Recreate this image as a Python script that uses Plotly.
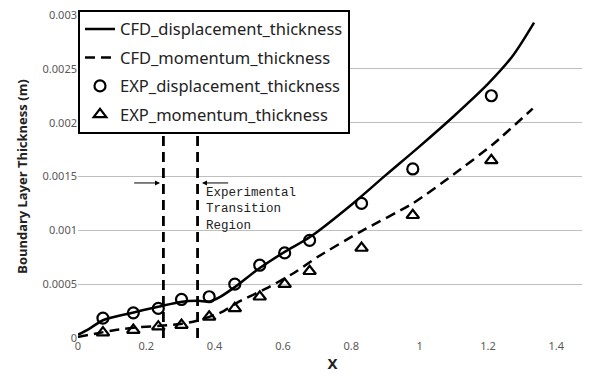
import plotly.graph_objects as go

# CFD curves
cfd_disp_x = [0, 0.035, 0.073, 0.16, 0.235, 0.30, 0.35, 0.385, 0.415, 0.46, 0.53, 0.605, 0.68, 0.805, 0.9, 1.0, 1.1, 1.2, 1.27, 1.335]
cfd_disp_y = [0.00003, 0.00009, 0.000165, 0.000235, 0.00029, 0.000335, 0.000345, 0.00034, 0.00038, 0.000475,
              0.000645, 0.0008, 0.00094, 0.00125, 0.00151, 0.00178, 0.00206, 0.00236, 0.00261, 0.00293]
cfd_mom_x = [0, 0.05, 0.12, 0.18, 0.25, 0.30, 0.35, 0.42, 0.47, 0.56, 0.64, 0.70, 0.834, 0.98, 1.1, 1.215, 1.331]
cfd_mom_y = [0.00001, 0.00004, 0.00008, 0.0001, 0.000115, 0.00013, 0.00016, 0.00024, 0.000335, 0.000475,
             0.00062, 0.00075, 0.001, 0.00125, 0.00152, 0.0018, 0.00213]

# Experimental points
exp_x = [0.073, 0.162, 0.235, 0.303, 0.384, 0.459, 0.532, 0.605, 0.678, 0.83, 0.98, 1.21]
exp_disp_y = [0.000185, 0.000234, 0.000275, 0.000358, 0.000383, 0.0005, 0.000676, 0.00079, 0.000907, 0.00125, 0.00157, 0.00225]
exp_mom_y = [0.00005, 0.000074, 0.000105, 0.00012, 0.000197, 0.000275, 0.000383, 0.0005, 0.00062, 0.000836, 0.00114, 0.00165]

# Transition region
transition_x = [0.25, 0.35]
transition_top = 0.0019

x_ticks = [0, 0.2, 0.4, 0.6, 0.8, 1, 1.2, 1.4]
y_ticks = [0, 0.0005, 0.001, 0.0015, 0.002, 0.0025, 0.003]
y_tick_labels = ["0", "0.0005", "0.001", "0.0015", "0.002", "0.0025", "0.003"]

fig = go.Figure()
fig.add_trace(go.Scatter(x=cfd_disp_x, y=cfd_disp_y, mode="lines", name="CFD_displacement_thickness",
                         line=dict(color="black", width=2.5, shape="spline", smoothing=0.9),
                         legendgroup="a"))
fig.add_trace(go.Scatter(x=cfd_mom_x, y=cfd_mom_y, mode="lines", name="CFD_momentum_thickness",
                         line=dict(color="black", width=2.5, dash="10px,6px", shape="spline", smoothing=0.6),
                         legendgroup="b"))
fig.add_trace(go.Scatter(x=exp_x, y=exp_disp_y, mode="markers", name="EXP_displacement_thickness",
                         marker=dict(symbol="circle-open", size=11, color="black", line=dict(width=2.2, color="black")),
                         legendgroup="c"))
fig.add_trace(go.Scatter(x=exp_x, y=exp_mom_y, mode="markers", name="EXP_momentum_thickness",
                         marker=dict(symbol="triangle-up-open", size=11, color="black", line=dict(width=2.2, color="black")),
                         legendgroup="d"))
for tx in transition_x:
    fig.add_trace(go.Scatter(x=[tx, tx], y=[0, transition_top], mode="lines", showlegend=False,
                             line=dict(color="black", width=2.8, dash="10px,6px")))

arrow_y = 0.00144
fig.add_annotation(x=0.24, y=arrow_y, ax=0.16, ay=arrow_y, xref="x", yref="y", axref="x", ayref="y",
                   showarrow=True, arrowhead=2, arrowsize=1, arrowwidth=1, arrowcolor="black", text="")
fig.add_annotation(x=0.363, y=arrow_y, ax=0.444, ay=arrow_y, xref="x", yref="y", axref="x", ayref="y",
                   showarrow=True, arrowhead=2, arrowsize=1, arrowwidth=1, arrowcolor="black", text="")
fig.add_annotation(x=0.368, y=0.00143, xref="x", yref="y", xanchor="left", yanchor="top", align="left",
                   showarrow=False, text="Experimental<br>Transition<br>Region",
                   font=dict(family="Liberation Mono", size=12.5, color="#222"))

# page body has an 8px default margin, so the figure is sized/margined to compensate
fig.update_layout(
    width=582, height=373,
    margin=dict(l=70, r=3, t=6, b=43),
    paper_bgcolor="white", plot_bgcolor="white",
    font=dict(family="Noto Sans", color="#222"),
    showlegend=True,
    legend=dict(x=0, y=1.013, xanchor="left", yanchor="top", bgcolor="white",
                bordercolor="black", borderwidth=2, font=dict(size=16.5, color="#222"),
                traceorder="grouped", tracegroupgap=4, itemwidth=30),
    xaxis=dict(range=[0, 1.49], tickvals=x_ticks, ticktext=[str(v) for v in x_ticks],
               showgrid=False, zeroline=False, showline=False, ticks="", automargin=False,
               tickfont=dict(size=11, color="#595959"),
               title=dict(text="<b>X</b>", font=dict(size=15, color="#222"), standoff=6)),
    yaxis=dict(range=[0, 0.003], tickvals=y_ticks, ticktext=y_tick_labels, ticklabeloverflow="allow",
               showgrid=True, gridcolor="#bfbfbf", gridwidth=1, zeroline=False, showline=False, ticks="",
               automargin=False, tickfont=dict(size=11, color="#595959"),
               title=dict(text="<b>Boundary Layer Thickness (m)</b>", font=dict(size=13, color="#222"), standoff=12)),
)
fig.write_html("out.html")
